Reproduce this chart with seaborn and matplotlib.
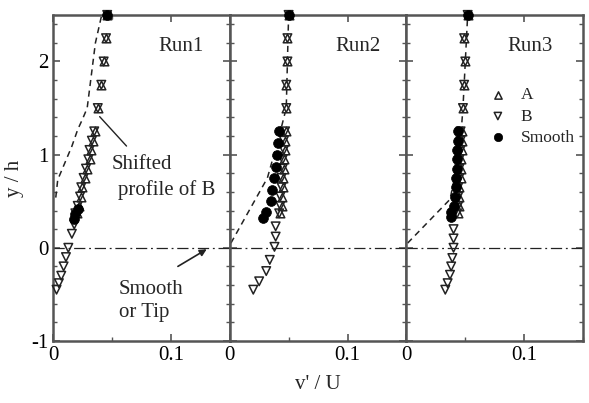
import numpy as np
import pandas as pd
import matplotlib
matplotlib.use("Agg")
import matplotlib.pyplot as plt
import seaborn as sns
from matplotlib.ticker import MultipleLocator

# ---- data: y/h heights and v'/U values ----
heights_upper = [2.5, 2.25, 2.0, 1.75, 1.5, 1.25, 1.15, 1.05, 0.95, 0.85, 0.75, 0.65, 0.55, 0.45, 0.37]

run1_a_v = [0.046, 0.045, 0.043, 0.041, 0.038, 0.036, 0.034, 0.032, 0.031, 0.029, 0.027, 0.025, 0.024, 0.022, 0.020]
run1_b_up_v = [0.046, 0.045, 0.043, 0.041, 0.038, 0.035, 0.033, 0.031, 0.030, 0.028, 0.026, 0.024, 0.023, 0.021, 0.019]
run1_b_low_y = [0.25, 0.15, 0.0, -0.1, -0.2, -0.3, -0.38, -0.45]
run1_b_low_v = [0.018, 0.016, 0.013, 0.011, 0.009, 0.007, 0.005, 0.003]
run1_smooth_y = [2.5, 0.42, 0.36, 0.31]
run1_smooth_v = [0.046, 0.021, 0.019, 0.018]
run1_shift_y = [2.48, 2.2, 1.8, 1.5, 1.38, 1.27, 1.09, 0.91, 0.73, 0.5]
run1_shift_v = [0.041, 0.036, 0.032, 0.029, 0.025, 0.021, 0.016, 0.010, 0.004, 0.002]

run2_a_v = [0.050, 0.049, 0.049, 0.048, 0.048, 0.048, 0.047, 0.047, 0.046, 0.046, 0.045, 0.045, 0.044, 0.044, 0.043]
run2_b_up_v = [0.050, 0.049, 0.049, 0.048, 0.048, 0.047, 0.046, 0.046, 0.045, 0.045, 0.044, 0.044, 0.043, 0.043, 0.042]
run2_b_low_y = [0.23, 0.12, 0.01, -0.13, -0.25, -0.36, -0.45]
run2_b_low_v = [0.039, 0.039, 0.038, 0.034, 0.031, 0.025, 0.020]
run2_smooth_y = [2.5, 1.25, 1.13, 1.0, 0.87, 0.75, 0.62, 0.5, 0.38, 0.32]
run2_smooth_v = [0.050, 0.042, 0.041, 0.040, 0.039, 0.038, 0.036, 0.035, 0.031, 0.028]
run2_shift_y = [0.05, 0.75, 1.2, 1.5, 2.5]
run2_shift_v = [0.001, 0.032, 0.042, 0.048, 0.050]

run3_a_v = [0.052, 0.049, 0.050, 0.049, 0.048, 0.047, 0.047, 0.047, 0.046, 0.046, 0.046, 0.045, 0.045, 0.045, 0.044]
run3_b_up_v = [0.052, 0.049, 0.050, 0.049, 0.048, 0.046, 0.046, 0.046, 0.045, 0.045, 0.045, 0.044, 0.044, 0.044, 0.043]
run3_b_low_y = [0.2, 0.1, 0.0, -0.11, -0.2, -0.29, -0.38, -0.45]
run3_b_low_v = [0.040, 0.040, 0.040, 0.039, 0.038, 0.037, 0.035, 0.033]
run3_smooth_y = [2.5, 1.25, 1.15, 1.05, 0.95, 0.85, 0.75, 0.65, 0.55, 0.45, 0.38, 0.33]
run3_smooth_v = [0.052, 0.044, 0.044, 0.043, 0.043, 0.043, 0.042, 0.042, 0.041, 0.040, 0.038, 0.038]
run3_shift_y = [0.05, 0.52, 1.0, 1.5, 2.5]
run3_shift_v = [0.001, 0.037, 0.045, 0.048, 0.052]

run_names = ["Run1", "Run2", "Run3"]


def make_frame(a_v, b_up_v, b_low_y, b_low_v, smooth_y, smooth_v):
    a = pd.DataFrame({"y": heights_upper, "v": a_v, "series": "A"})
    b = pd.DataFrame({"y": heights_upper + b_low_y, "v": b_up_v + b_low_v, "series": "B"})
    s = pd.DataFrame({"y": smooth_y, "v": smooth_v, "series": "Smooth"})
    return pd.concat([a, b, s], ignore_index=True)


frames = [
    make_frame(run1_a_v, run1_b_up_v, run1_b_low_y, run1_b_low_v, run1_smooth_y, run1_smooth_v),
    make_frame(run2_a_v, run2_b_up_v, run2_b_low_y, run2_b_low_v, run2_smooth_y, run2_smooth_v),
    make_frame(run3_a_v, run3_b_up_v, run3_b_low_y, run3_b_low_v, run3_smooth_y, run3_smooth_v),
]
shifts = [(run1_shift_v, run1_shift_y), (run2_shift_v, run2_shift_y), (run3_shift_v, run3_shift_y)]

sns.set_theme(style="ticks")
plt.rcParams["font.family"] = ["Liberation Serif", "DejaVu Serif"]
plt.rcParams["axes.unicode_minus"] = False

fig, axes = plt.subplots(1, 3, figsize=(5.89, 4.03), dpi=100, sharey=True)
fig.subplots_adjust(left=0.090, right=0.990, bottom=0.154, top=0.963, wspace=0)

edge = "#222222"
for i, ax in enumerate(axes):
    df = frames[i]
    sv, sy = shifts[i]
    ax.plot(sv, sy, ls=(0, (4, 3)), color=edge, lw=1.1, zorder=1)
    ax.axhline(0, ls=(0, (9, 3, 1.5, 3)), color=edge, lw=0.9, zorder=1)

    sns.scatterplot(data=df[df.series == "A"], x="v", y="y", marker="^", s=38,
                    facecolor="white", edgecolor=edge, linewidth=1.1, ax=ax, zorder=3,
                    label="A", clip_on=False)
    sns.scatterplot(data=df[df.series == "B"], x="v", y="y", marker="v", s=38,
                    facecolor="none", edgecolor=edge, linewidth=1.1, ax=ax, zorder=3,
                    label="B", clip_on=False)
    sns.scatterplot(data=df[df.series == "Smooth"], x="v", y="y", marker="o", s=50,
                    color="black", edgecolor="black", linewidth=0.5, ax=ax, zorder=4,
                    label="Smooth", clip_on=False)

    ax.set_xlim(0, 0.15)
    ax.set_ylim(-1, 2.5)
    ax.xaxis.set_minor_locator(MultipleLocator(0.05))
    ax.yaxis.set_major_locator(MultipleLocator(1))
    ax.yaxis.set_minor_locator(MultipleLocator(0.2))
    ax.set_xticks([0, 0.1])
    ax.set_xticklabels(["0", "0.1"])
    ax.tick_params(which="both", direction="in", top=True, right=True, colors="#555555",
                   labelcolor="black", labelsize=15)
    ax.tick_params(which="major", length=5, width=1.2)
    ax.tick_params(which="minor", length=3, width=1.0)
    for sp in ax.spines.values():
        sp.set_color("#555555")
        sp.set_linewidth(1.8)
    ax.set_xlabel("")
    ax.set_ylabel("")
    ax.text(0.109 if i < 2 else 0.105, 2.16, run_names[i], ha="center", va="center", fontsize=15)
    if i < 2:
        ax.get_legend().remove()

axes[0].set_yticks([-1, 0, 1, 2])
axes[0].set_yticklabels(["-1", "0", "1", "2"])
axes[0].set_ylabel("y / h", fontsize=15, labelpad=5)
axes[1].set_xlabel("v' / U", fontsize=15, labelpad=7)

leg = axes[2].legend(frameon=False, loc="upper left", bbox_to_anchor=(0.38, 0.80),
                     fontsize=12.5, handletextpad=0.3, labelspacing=0.3, borderaxespad=0,
                     markerscale=0.85)

# annotations in Run1
ax = axes[0]
ax.text(0.050, 0.89, "Shifted", fontsize=15, va="center", ha="left")
ax.text(0.055, 0.62, "profile of B", fontsize=15, va="center", ha="left")
ax.annotate("", xy=(0.038, 1.43), xytext=(0.064, 1.07),
            arrowprops=dict(arrowstyle="-", color=edge, lw=1.0))
ax.text(0.056, -0.45, "Smooth", fontsize=15, va="center", ha="left")
ax.text(0.056, -0.70, "or Tip", fontsize=15, va="center", ha="left")
ax.annotate("", xy=(0.1325, 0.0), xytext=(0.104, -0.215),
            arrowprops=dict(arrowstyle="-|>", color=edge, lw=1.2, mutation_scale=10))

fig.savefig("out.png", dpi=100)
